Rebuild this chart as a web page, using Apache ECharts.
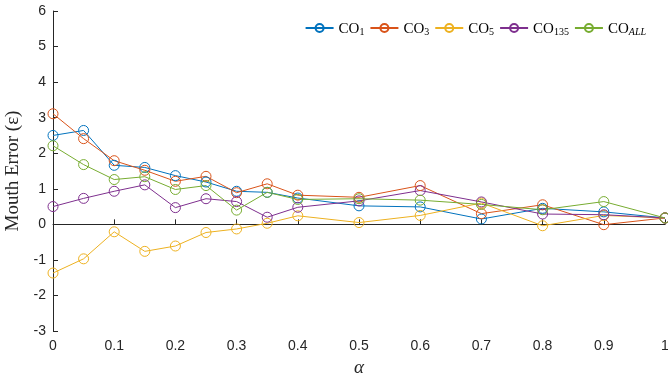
<!DOCTYPE html>
<html><head><meta charset="utf-8">
<script src="https://cdn.jsdelivr.net/npm/echarts@6/dist/echarts.min.js"></script>
<style>html,body{margin:0;padding:0;background:#fff;overflow:hidden}#c{width:668px;height:375px}</style>
</head><body><div id="c"></div>
<script>
const alphas = [0,0.05,0.1,0.15,0.2,0.25,0.3,0.35,0.4,0.5,0.6,0.7,0.8,0.9,1];
const co1   = [2.50,2.64,1.66,1.60,1.37,1.19,0.93,0.90,0.74,0.52,0.49,0.15,0.45,0.35,0.18];
const co3   = [3.11,2.41,1.79,1.52,1.21,1.35,0.89,1.14,0.82,0.76,1.09,0.30,0.55,-0.01,0.18];
const co5   = [-1.37,-0.97,-0.21,-0.76,-0.61,-0.23,-0.13,0.03,0.24,0.05,0.25,0.60,-0.04,0.25,0.18];
const co135 = [0.50,0.73,0.93,1.11,0.47,0.72,0.64,0.20,0.48,0.66,0.95,0.63,0.29,0.27,0.18];
const coAll = [2.21,1.68,1.26,1.34,0.98,1.09,0.40,0.90,0.70,0.72,0.68,0.56,0.41,0.64,0.18];
const names = ['CO1','CO3','CO5','CO135','COALL'];
const subs  = ['1','3','5','135','ALL'];
const colors = ['#0072BD','#D95319','#EDB120','#7E2F8E','#77AC30'];
const yTicks = {min:-3,max:6,interval:1};
const xTicks = {min:0,max:1,interval:0.1};

const all = [co1,co3,co5,co135,coAll];
const chart = echarts.init(document.getElementById('c'));
chart.setOption({
  animation:false,
  grid:{left:53,right:3,top:11,bottom:44,containLabel:false,outerBoundsMode:'none'},
  legend:{
    top:17,right:17,itemGap:5,itemWidth:28,itemHeight:10,
    data:names,
    formatter:function(n){const i=names.indexOf(n);return '{a|CO}{'+(i===4?'i':'s')+'|'+subs[i]+'}';},
    textStyle:{rich:{
      a:{fontFamily:'Liberation Serif',fontSize:15,color:'#000',verticalAlign:'bottom',lineHeight:18},
      s:{fontFamily:'Liberation Serif',fontSize:10,color:'#000',verticalAlign:'bottom',lineHeight:12},
      i:{fontFamily:'Liberation Serif',fontStyle:'italic',fontSize:10,color:'#000',verticalAlign:'bottom',lineHeight:12}
    }}
  },
  xAxis:{type:'value',min:xTicks.min,max:xTicks.max,interval:xTicks.interval,
    name:'α',nameLocation:'middle',nameGap:27,
    nameTextStyle:{fontFamily:'Liberation Serif',fontStyle:'italic',fontSize:19,color:'#262626'},
    axisLine:{lineStyle:{color:'#262626',width:1}},
    axisTick:{inside:true,length:5,lineStyle:{color:'#262626'}},
    axisLabel:{color:'#262626',fontSize:14,fontFamily:'Liberation Sans',margin:8,
      formatter:v=>String(Math.round(v*10)/10)},
    splitLine:{show:false}},
  yAxis:{type:'value',min:yTicks.min,max:yTicks.max,interval:yTicks.interval,
    name:'Mouth Error (ε)',nameLocation:'middle',nameGap:27,
    nameTextStyle:{fontFamily:'Liberation Serif',fontSize:19,color:'#262626'},
    axisLine:{show:true,lineStyle:{color:'#262626',width:1}},
    axisTick:{show:true,inside:true,length:5,lineStyle:{color:'#262626'}},
    axisLabel:{color:'#262626',fontSize:14,fontFamily:'Liberation Sans',margin:7},
    splitLine:{show:false}},
  series: all.map((d,i)=>({
    name:names[i],type:'line',
    data:alphas.map((a,j)=>[a,d[j]]),
    symbol:'circle',symbolSize:10,
    itemStyle:{color:'rgba(255,255,255,0)',borderColor:colors[i],borderWidth:1},
    lineStyle:{color:colors[i],width:1},
    color:colors[i]
  }))
});
</script></body></html>
